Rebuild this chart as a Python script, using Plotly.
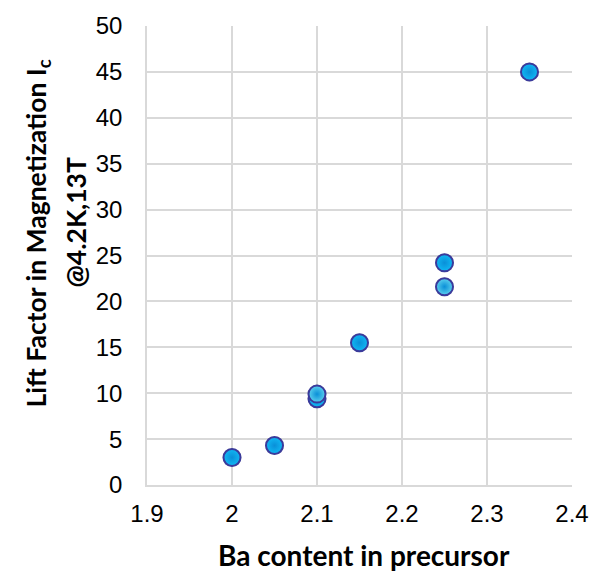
import plotly.graph_objects as go

ba_content = [2.0, 2.05, 2.1, 2.1, 2.15, 2.25, 2.25, 2.35]
lift_factor = [3.0, 4.3, 9.4, 9.9, 15.5, 24.2, 21.6, 45.0]
point_colors = ["#10b8f4", "#10b8f4", "#10b8f4", "#5cd0ee", "#10b8f4", "#10b8f4", "#5cd0ee", "#10b8f4"]
x_ticks = [1.9, 2.0, 2.1, 2.2, 2.3, 2.4]
x_tick_text = ["1.9", "2", "2.1", "2.2", "2.3", "2.4"]
y_ticks = list(range(0, 55, 5))

fig = go.Figure()
# shadow
fig.add_trace(go.Scatter(
    x=ba_content, y=lift_factor, mode="markers", hoverinfo="skip",
    marker=dict(size=19, color="rgba(0,0,0,0.18)", line=dict(width=0)),
    showlegend=False,
))
fig.add_trace(go.Scatter(
    x=ba_content, y=lift_factor, mode="markers",
    marker=dict(size=17, color=point_colors,
                gradient=dict(type="radial", color="#0a8fd8"),
                line=dict(color="#3a3a9c", width=2)),
    showlegend=False,
))

tick_font = dict(family="Liberation Sans, Arial, sans-serif", size=24, color="#000")
title_font = dict(family="Lato, Open Sans, sans-serif", size=26.5, color="#000")
fig.update_layout(
    width=602, height=585,
    margin=dict(l=147, r=30, t=22, b=100),
    paper_bgcolor="white", plot_bgcolor="white",
    xaxis=dict(range=[1.9, 2.4], tickvals=x_ticks, ticktext=x_tick_text,
               showgrid=True, gridcolor="#d9d9d9", gridwidth=1.5,
               showline=True, linecolor="#d9d9d9", linewidth=1.5,
               zeroline=False, tickfont=tick_font, ticks="",
               ticklabelstandoff=6),
    yaxis=dict(range=[0, 50], tickvals=y_ticks,
               showgrid=True, gridcolor="#d9d9d9", gridwidth=1.5,
               showline=True, linecolor="#d9d9d9", linewidth=1.5,
               zeroline=False, tickfont=tick_font, ticks="",
               ticklabelstandoff=18),
    annotations=[
        dict(text="<b>Ba content in precursor</b>", xref="paper", yref="paper",
             x=0.51, y=-0.152, showarrow=False, xanchor="center", yanchor="middle",
             font=dict(family="Lato, Open Sans, sans-serif", size=28, color="#000")),
        dict(text="<b>Lift Factor in Magnetization I<sub>c</sub></b>",
             xref="paper", yref="paper", x=-0.2565, y=0.548, textangle=-90,
             showarrow=False, xanchor="center", yanchor="middle", font=title_font),
        dict(text="<b>@4.2K,13T</b>",
             xref="paper", yref="paper", x=-0.168, y=0.571, textangle=-90,
             showarrow=False, xanchor="center", yanchor="middle", font=title_font),
    ],
)
fig.write_html("out.html")
